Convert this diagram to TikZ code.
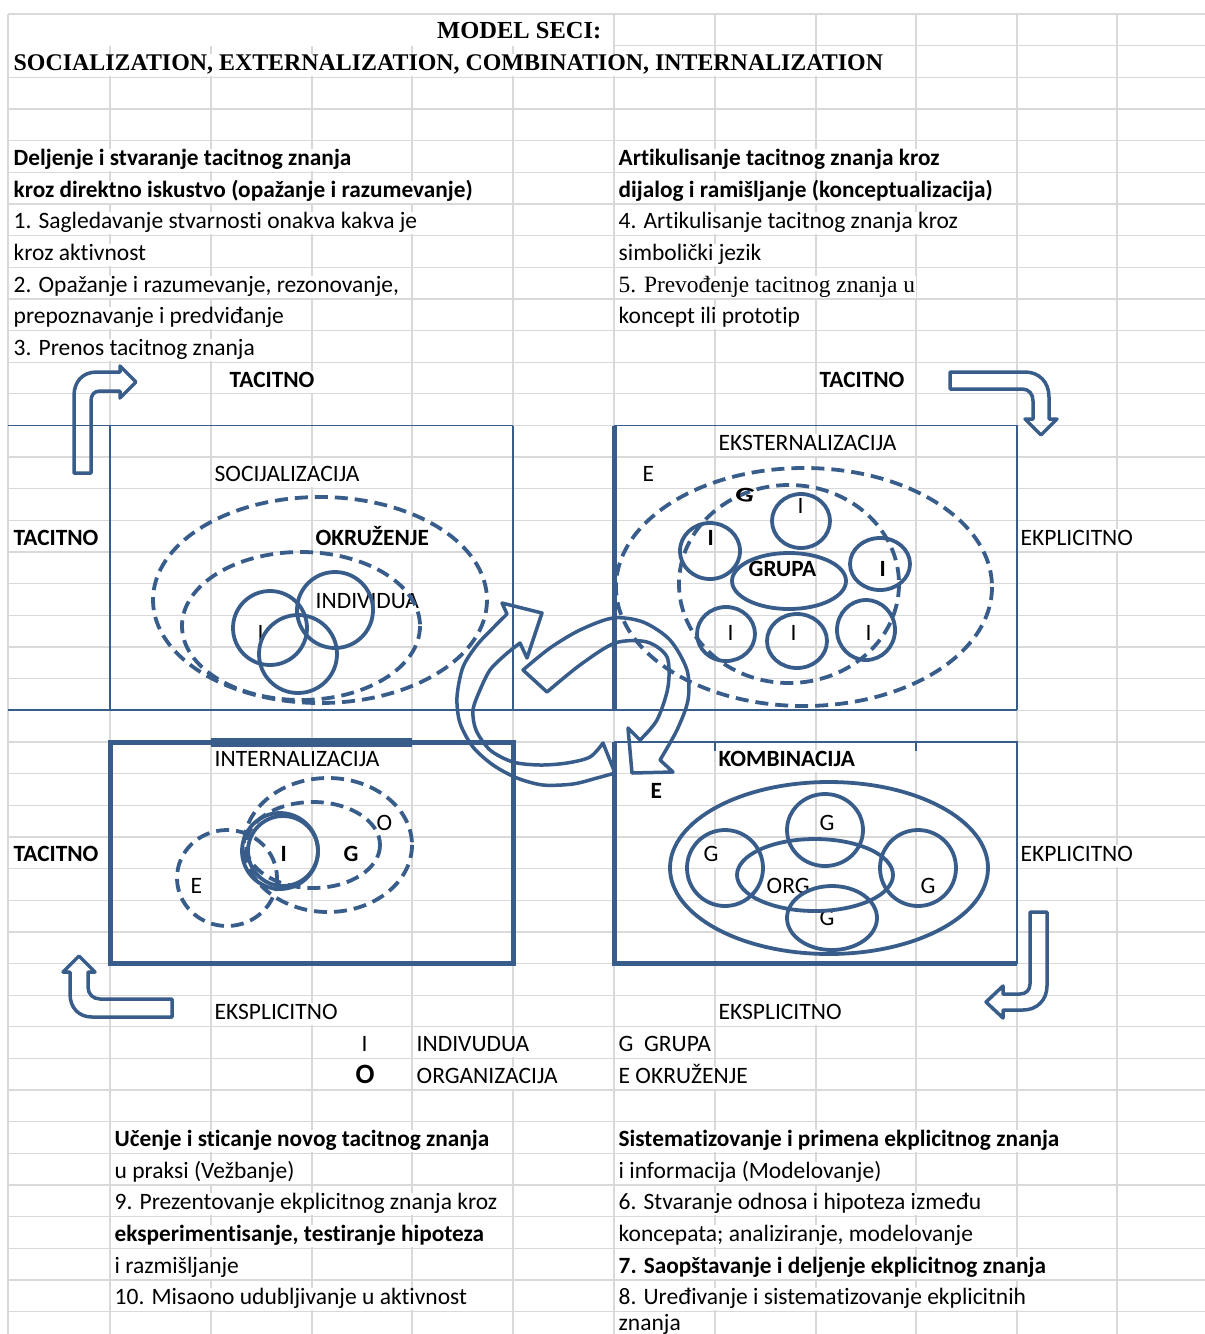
\documentclass[tikz,border=0pt]{standalone}
\usepackage{fontspec}
\setmainfont{Carlito}[Ligatures=NoCommon]
\newfontfamily\tnr{Liberation Serif}
\definecolor{sb}{HTML}{385D8A}
\definecolor{gl}{HTML}{D9D9D9}
\begin{document}
\begin{tikzpicture}[x=1pt,y=-1pt,
  grid/.style={gl, line width=1.3pt},
  txt/.style={anchor=west, fill=white, inner xsep=0.5pt, inner ysep=0.5pt, text height=16pt, text depth=5pt, yshift=-3.5pt, font=\fontsize{23.5}{26}\selectfont},
  btxt/.style={txt, font=\fontsize{23.3}{26}\selectfont\bfseries},
  dsh/.style={sb, line width=3.8pt, dash pattern=on 13pt off 7pt},
  sol/.style={sb, line width=3.8pt},
  bthin/.style={sb, line width=1.8pt},
  bthick/.style={sb, line width=5pt},
  blk/.style={sb, line width=3.5pt, line join=round}]
\useasboundingbox (0,0) rectangle (1205,1334);
\fill[white] (0,0) rectangle (1205,1334);
% grid
\foreach \k in {0,...,42} {\draw[grid] (8,{14+31.65*\k}) -- (1205,{14+31.65*\k});}
\foreach \x in {8,110,211,312,412,513,614,715,816,916,1017,1117} {\draw[grid] (\x,14) -- (\x,1334);}
\fill[white] (9,15) rectangle (613,46);
% titles
\node[anchor=west, inner sep=0pt, font=\tnr\bfseries\fontsize{24.5}{26}\selectfont] (title1) at (437,30.5) {MODEL SECI:};
\node[txt, font=\tnr\bfseries\fontsize{23.9}{26}\selectfont] (title2) at (13,61.5) {SOCIALIZATION, EXTERNALIZATION, COMBINATION, INTERNALIZATION};
% upper text blocks
\node[btxt] (l1) at (13,156.4) {Deljenje i stvaranje tacitnog znanja};
\node[btxt] (l2) at (13,188.1) {kroz direktno iskustvo (opažanje i razumevanje)};
\node[txt] (l3) at (13,219.7) {1. Sagledavanje stvarnosti onakva kakva je};
\node[txt] (l4) at (13,251.4) {kroz aktivnost};
\node[txt] (l5) at (13,283.0) {2. Opažanje i razumevanje, rezonovanje,};
\node[txt] (l6) at (13,314.7) {prepoznavanje i predviđanje};
\node[txt] (l7) at (13,346.3) {3. Prenos tacitnog znanja};
\node[btxt] (r1) at (618,156.4) {Artikulisanje tacitnog znanja kroz};
\node[btxt] (r2) at (618,188.1) {dijalog i ramišljanje (konceptualizacija)};
\node[txt] (r3) at (618,219.7) {4. Artikulisanje tacitnog znanja kroz};
\node[txt] (r4) at (618,251.4) {simbolički jezik};
\node[txt, font=\tnr\fontsize{23.4}{26}\selectfont] (r5) at (618,283.0) {5. Prevođenje tacitnog znanja u};
\node[txt] (r6) at (618,314.7) {koncept ili prototip};
% diagram labels
\node[btxt] (tac1) at (229,378.0) {TACITNO};
\node[btxt] (tac2) at (819,378.0) {TACITNO};
\node[txt] (eks) at (718,441.3) {EKSTERNALIZACIJA};
\node[txt] (soc) at (214,472.9) {SOCIJALIZACIJA};
\node[txt] (e1) at (642,472.9) {E};
\node[txt] (iT) at (797,504) {I};
\node[btxt] (tac3) at (13,536.2) {TACITNO};
\node[btxt] (okr) at (315,536.2) {OKRUŽENJE};
\node[btxt] (iL) at (707,536.2) {I};
\node[txt] (ekp1) at (1020,536.2) {EKPLICITNO};
\begin{scope}
\clip (700,552) rectangle (815,590);
\node[btxt] (grupa) at (748,567.9) {GRUPA};
\end{scope}
\node[btxt] (iR) at (879,567.9) {I};
\node[txt] (ind) at (315,599.5) {INDIVIDUA};
\node[txt] (i0) at (257,631.2) {I};
\node[txt] (iB1) at (727,631.2) {I};
\node[txt] (iB2) at (790,631.2) {I};
\node[txt] (iB3) at (865,631.2) {I};
\node[txt] (int) at (214,757.8) {INTERNALIZACIJA};
\node[btxt] (kom) at (718,757.8) {KOMBINACIJA};
\node[btxt] (e2) at (650,789.4) {E};
\node[txt] (o1) at (376,821.1) {O};
\node[txt] (g1) at (819,821.1) {G};
\node[btxt] (tac4) at (13,852.7) {TACITNO};
\node[btxt] (i2) at (280,852.7) {I};
\node[btxt] (g2) at (343,852.7) {G};
\node[txt] (g3) at (703,852.7) {G};
\node[txt] (ekp2) at (1020,852.7) {EKPLICITNO};
\node[txt] (e3) at (190,884.4) {E};
\node[txt] (org) at (766,884.4) {ORG};
\node[txt] (g4) at (920,884.4) {G};
\node[txt] (g5) at (819,916.0) {G};
\node[txt] (eksp1) at (214,1010.9) {EKSPLICITNO};
\node[txt] (eksp2) at (718,1010.9) {EKSPLICITNO};
% legend
\node[txt] (lgI) at (361,1042.6) {I};
\node[txt] (lgInd) at (416,1042.6) {INDIVUDUA};
\node[txt] (lgG) at (618,1042.6) {G \ GRUPA};
\node[txt, font=\fontsize{28}{30}\selectfont\bfseries] (lgO) at (355,1074.2) {O};
\node[txt] (lgOrg) at (416,1074.2) {ORGANIZACIJA};
\node[txt] (lgE) at (618,1074.2) {E OKRUŽENJE};
% lower text blocks
\node[btxt] (bl1) at (114,1137.5) {Učenje i sticanje novog tacitnog znanja};
\node[txt] (bl2) at (114,1169.2) {u praksi (Vežbanje)};
\node[txt] (bl3) at (114,1200.8) {9. Prezentovanje ekplicitnog znanja kroz};
\node[btxt] (bl4) at (114,1232.5) {eksperimentisanje, testiranje hipoteza};
\node[txt] (bl5) at (114,1264.1) {i razmišljanje};
\node[txt] (bl6) at (114,1295.8) {10. Misaono udubljivanje u aktivnost};
\node[btxt] (br1) at (618,1137.5) {Sistematizovanje i primena ekplicitnog znanja};
\node[txt] (br2) at (618,1169.2) {i informacija (Modelovanje)};
\node[txt] (br3) at (618,1200.8) {6. Stvaranje odnosa i hipoteza između};
\node[txt] (br4) at (618,1232.5) {koncepata; analiziranje, modelovanje};
\node[btxt] (br5) at (618,1264.1) {7. Saopštavanje i deljenje ekplicitnog znanja};
\node[txt] (br6) at (618,1295.8) {8. Uređivanje i sistematizovanje ekplicitnih};
\node[txt] (br7) at (618,1321.5) {znanja};
% box borders
\draw[bthin] (8,425.5) -- (513,425.5);
\draw[bthin] (8,710.3) -- (1017,710.3);
\draw[bthin] (110,425.5) -- (110,710.3);
\draw[bthin] (513,425.5) -- (513,710.3);
\draw[bthin] (614,425.5) -- (1017,425.5) -- (1017,710.3);
\draw[bthick] (614,425.5) -- (614,710.3);
\draw[bthick] (110,742) rectangle (513,963.5);
\draw[sb, line width=9pt] (211,742) -- (412,742);
\draw[bthin] (614,742) -- (1017,742) -- (1017,963.5);
\draw[bthin] (715,742) -- (715,751);
\draw[bthin] (916,742) -- (916,751);
\draw[bthick] (614,742) -- (614,963.5) -- (1017,963.5);
% socijalizacija
\draw[dsh] (320,600) ellipse [x radius=167, y radius=103];
\draw[dsh] (301,626) ellipse [x radius=119, y radius=74];
\draw[sol] (270,628) circle [radius=37];
\draw[sol] (335,610) circle [radius=38];
\draw[sol] (298,654) circle [radius=39];
% eksternalizacija
\draw[dsh] (804,587) ellipse [x radius=188, y radius=119];
\draw[dsh] (789,584) ellipse [x radius=110, y radius=99];
\node[font=\fontsize{26}{28}\selectfont\bfseries, inner sep=0pt, xscale=1.15, yscale=0.8, rotate=-10] (gg) at (745,495) {G};
\draw[sol] (801,521) ellipse [x radius=29, y radius=27];
\draw[sol] (710,551) ellipse [x radius=30, y radius=28];
\draw[sol] (880,564) ellipse [x radius=30, y radius=26];
\draw[sol] (789,581) ellipse [x radius=57, y radius=28];
\draw[sol] (726,634) ellipse [x radius=29, y radius=27];
\draw[sol] (797,641) ellipse [x radius=30, y radius=27];
\draw[sol] (866,630) ellipse [x radius=29, y radius=30];
% internalizacija
\draw[dsh] (328,845) ellipse [x radius=84, y radius=67];
\draw[dsh] (313,845) ellipse [x radius=67, y radius=43];
\draw[dsh] (227,878) ellipse [x radius=50, y radius=48];
\draw[sol] (280,851) circle [radius=38];
\draw[sol] (283,851) circle [radius=35];
% kombinacija
\draw[sol] (829,868) ellipse [x radius=159, y radius=86];
\draw[sol] (825,830) ellipse [x radius=38, y radius=36];
\draw[sol] (725,868) circle [radius=38];
\draw[sol] (815,875) ellipse [x radius=78, y radius=36];
\draw[sol] (918,868) circle [radius=38];
\draw[sol] (832,918) ellipse [x radius=45, y radius=32];
% central curved arrows
\draw[blk] plot[smooth] coordinates {(615,773) (597,778) (573,784) (543,785) (517,778) (493,765) (473,747) (460,723) (457,697) (463,667) (477,645) (493,628) (507,614)} -- (502,603) -- (542,613) -- (527,658) -- (520,643) -- plot[smooth] coordinates {(520,643) (505,655) (490,670) (480,690) (473,710) (476,730) (490,750) (513,762) (540,765) (567,763) (590,757) (603,743)} -- cycle;
\draw[blk] plot[smooth] coordinates {(523,670) (550,648) (580,630) (613,618) (643,622) (670,640) (687,670) (688,700) (677,730) (660,760)} -- (673,772) -- (632,773) -- (628,728) -- (640,740) -- plot[smooth] coordinates {(640,740) (657,720) (668,687) (667,657) (647,642) (615,643) (580,665) (547,692)} -- cycle;
% bent arrows
\draw[blk] (74,473) -- (74,396) .. controls (74,382) and (82,372) .. (97,372) -- (120,372) -- (120,366) -- (136,382) -- (120,398) -- (120,391) -- (100,391) .. controls (94,391) and (91,395) .. (91,401) -- (91,473) -- cycle;
\draw[blk] (950,372) -- (1025,372) .. controls (1039,372) and (1049,382) .. (1049,397) -- (1049,419) -- (1057,419) -- (1041,435) -- (1025,419) -- (1033,419) -- (1033,401) .. controls (1033,394) and (1029,389) .. (1022,389) -- (950,389) -- cycle;
\draw[blk] (172,999) -- (100,999) .. controls (93,999) and (88,994) .. (88,987) -- (88,972) -- (95,972) -- (79,956) -- (63,972) -- (70,972) -- (70,994) .. controls (70,1008) and (79,1017) .. (92,1017) -- (172,1017) -- cycle;
\draw[blk] (1030,912) -- (1047,912) -- (1047,986) .. controls (1047,1000) and (1037,1010) .. (1023,1010) -- (1003,1010) -- (1003,1018) -- (986,1002) -- (1003,986) -- (1003,994) -- (1020,994) .. controls (1026,994) and (1030,990) .. (1030,984) -- cycle;
\end{tikzpicture}
\end{document}
